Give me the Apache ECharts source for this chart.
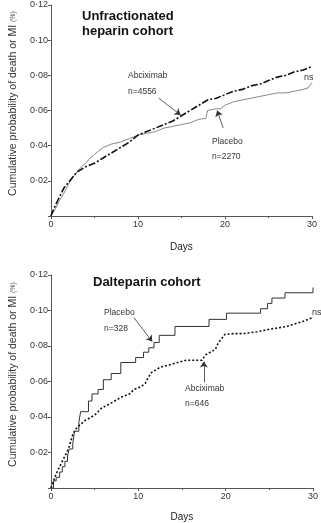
<!DOCTYPE html>
<html>
<head>
<meta charset="utf-8">
<script src="https://cdn.jsdelivr.net/npm/echarts@6/dist/echarts.min.js"></script>
<style>
html,body{margin:0;padding:0;background:#fff}
#chart{width:321px;height:523px}
</style>
</head>
<body>
<div id="chart"></div>
<script>
// unfractionated heparin cohort
var uhAbcixDays = [0,0.5,1,1.5,2,2.5,3,4,5,6,7,8,9,10,11,12,13,14,15,16,17,18,19,20,21,22,23,24,25,26,27,28,29,30];
var uhAbcix = [0,0.006,0.011,0.016,0.019,0.022,0.025,0.028,0.030,0.033,0.036,0.039,0.042,0.046,0.048,0.050,0.052,0.054,0.057,0.060,0.063,0.066,0.067,0.069,0.071,0.072,0.074,0.075,0.077,0.079,0.080,0.082,0.083,0.085];
var uhPlacDays = [0,0.5,1,1.5,2,2.5,3,3.5,4,4.5,5,5.5,6,7,8,9,10,11,12,13,14,15,16,17,17.8,18,19,19.5,20,21,22,23,24,25,26,27,28,29,29.6,30];
var uhPlac = [0,0.004,0.009,0.013,0.018,0.022,0.025,0.028,0.030,0.033,0.035,0.037,0.039,0.041,0.042,0.044,0.046,0.047,0.048,0.050,0.051,0.052,0.053,0.055,0.0555,0.060,0.061,0.061,0.063,0.065,0.066,0.067,0.068,0.069,0.070,0.070,0.071,0.072,0.073,0.076];

// dalteparin cohort
var dalAbcixDays = [0,0.3,0.6,1,1.5,2,2.5,2.8,3.2,3.9,5,5.8,6.6,8,9,9.5,10.3,10.8,11.1,11.5,12.5,14,15.5,17.3,17.7,18.8,19.2,19.9,21,22,23.6,25.1,27,28.9,30];
var dalAbcix = [0,0.004,0.008,0.012,0.017,0.022,0.030,0.033,0.035,0.038,0.041,0.045,0.047,0.051,0.053,0.0555,0.057,0.059,0.062,0.065,0.068,0.070,0.072,0.072,0.075,0.078,0.082,0.0865,0.087,0.087,0.088,0.0895,0.091,0.094,0.096];
var dalPlacDays = [0,0.3,0.6,1.0,1.3,1.6,1.9,2.1,2.5,2.7,3.2,3.4,4.3,4.7,5.4,6.0,6.9,8.0,9.7,10.6,11.2,11.8,12.4,14.2,18.1,20.1,24.0,24.8,25.3,26.8,30];
var dalPlac = [0,0.004,0.006,0.009,0.012,0.015,0.018,0.022,0.025,0.032,0.037,0.043,0.049,0.053,0.0555,0.061,0.0645,0.0707,0.0735,0.0765,0.079,0.082,0.086,0.091,0.095,0.0985,0.101,0.104,0.107,0.110,0.113];

var xTicks = [0, 10, 20, 30];
var yTicks = [0.02, 0.04, 0.06, 0.08, 0.10, 0.12];

function zip(xs, ys) {
    return xs.map(function (x, i) { return [x, ys[i]]; });
}

function yLabel(v) {
    if (v === 0) return '';
    return v.toFixed(2).replace('.', '\u00b7');
}

var font = 'Liberation Sans, Arial, sans-serif';

function xAxisOf(idx, gap) {
    return {
        gridIndex: idx, type: 'value', min: 0, max: 30, interval: 10,
        name: 'Days', nameLocation: 'middle', nameGap: gap,
        nameTextStyle: {fontFamily: font, fontSize: 10, color: '#222'},
        axisLine: {lineStyle: {color: '#555', width: 1}},
        axisTick: {show: true, length: 3, lineStyle: {color: '#555'}},
        minorTick: {show: true, splitNumber: 2, length: 2, lineStyle: {color: '#555'}},
        axisLabel: {fontFamily: font, fontSize: 9, color: '#333', margin: 4},
        splitLine: {show: false}
    };
}

function yAxisOf(idx) {
    return {
        gridIndex: idx, type: 'value', min: 0, max: 0.12, interval: 0.02,
        name: '{a|Cumulative probability of death or MI }{b|(%)}',
        nameLocation: 'middle', nameGap: 29, nameRotate: 90,
        nameTextStyle: {
            padding: [0, 0, 0, 14],
            rich: {
                a: {fontFamily: font, fontSize: 10.5, color: '#333'},
                b: {fontFamily: font, fontSize: 7, color: '#555'}
            }
        },
        axisLine: {show: true, lineStyle: {color: '#555', width: 1}},
        axisTick: {show: true, length: 3, lineStyle: {color: '#555'}},
        axisLabel: {fontFamily: font, fontSize: 9, color: '#333', margin: 3, formatter: yLabel},
        splitLine: {show: false}
    };
}

function arrow(from, to) {
    return [{coord: from}, {coord: to}];
}

var markStyle = {
    silent: true, animation: false,
    symbol: ['none', 'arrow'], symbolSize: 6,
    label: {show: false},
    lineStyle: {color: '#333', width: 0.8, type: 'solid'},
    emphasis: {disabled: true}
};

var myChart = echarts.init(document.getElementById('chart'));
var option = {
    animation: false,
    backgroundColor: '#fff',
    grid: [
        {left: 46, right: 9, top: 5, height: 211},
        {left: 48, right: 4, top: 275, height: 214}
    ],
    xAxis: [xAxisOf(0, 26), xAxisOf(1, 24)],
    yAxis: [yAxisOf(0), yAxisOf(1)],
    series: [
        {
            name: 'Placebo', type: 'line', xAxisIndex: 0, yAxisIndex: 0,
            showSymbol: false, data: zip(uhPlacDays, uhPlac),
            lineStyle: {color: '#888', width: 1}
        },
        {
            name: 'Abciximab', type: 'line', xAxisIndex: 0, yAxisIndex: 0,
            showSymbol: false, data: zip(uhAbcixDays, uhAbcix),
            lineStyle: {color: '#111', width: 1.6, type: [7, 2, 2, 2]},
            markLine: Object.assign({}, markStyle, {
                data: [arrow([12.4, 0.067], [14.9, 0.0575]), arrow([19.8, 0.050], [19.1, 0.060])]
            })
        },
        {
            name: 'Placebo', type: 'line', xAxisIndex: 1, yAxisIndex: 1,
            showSymbol: false, step: 'end', data: zip(dalPlacDays, dalPlac),
            lineStyle: {color: '#333', width: 1}
        },
        {
            name: 'Abciximab', type: 'line', xAxisIndex: 1, yAxisIndex: 1,
            showSymbol: false, data: zip(dalAbcixDays, dalAbcix),
            lineStyle: {color: '#111', width: 1.6, type: [2, 2]},
            markLine: Object.assign({}, markStyle, {
                data: [arrow([9.5, 0.096], [11.6, 0.0825]), arrow([17.5, 0.0595], [17.5, 0.0712])]
            })
        }
    ],
    graphic: [
        {type: 'text', left: 82, top: 9, style: {text: 'Unfractionated\nheparin cohort', font: 'bold 13px ' + font, fill: '#111', lineHeight: 15}},
        {type: 'text', left: 93, top: 276, style: {text: 'Dalteparin cohort', font: 'bold 13px ' + font, fill: '#111'}},
        {type: 'text', left: 128, top: 71, style: {text: 'Abciximab\n\nn=4556', font: '8.5px ' + font, fill: '#333', lineHeight: 8}},
        {type: 'text', left: 212, top: 137, style: {text: 'Placebo\n\nn=2270', font: '8.5px ' + font, fill: '#333', lineHeight: 7.5}},
        {type: 'text', left: 304, top: 73, style: {text: 'ns', font: '9px ' + font, fill: '#333'}},
        {type: 'text', left: 104, top: 308, style: {text: 'Placebo\n\nn=328', font: '8.5px ' + font, fill: '#333', lineHeight: 8}},
        {type: 'text', left: 185, top: 384, style: {text: 'Abciximab\n\nn=646', font: '8.5px ' + font, fill: '#333', lineHeight: 7.5}},
        {type: 'text', left: 312, top: 308, style: {text: 'ns', font: '9px ' + font, fill: '#333'}}
    ]
};
myChart.setOption(option);
</script>
</body>
</html>
